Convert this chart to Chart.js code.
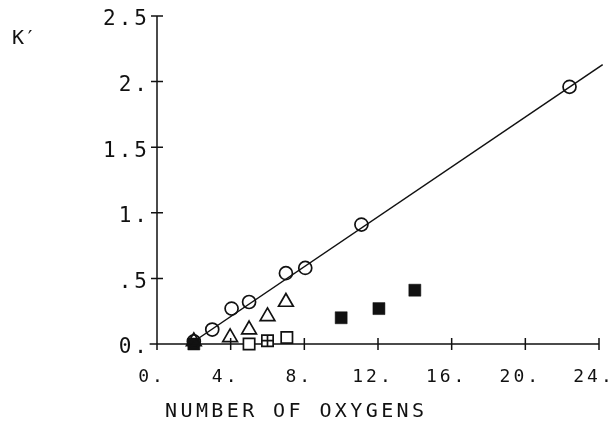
<!DOCTYPE html>
<html>
<head>
<meta charset="utf-8">
<script src="https://cdn.jsdelivr.net/npm/chart.js@4/dist/chart.umd.min.js"></script>
<style>
html,body{margin:0;padding:0;background:#fff;}
#wrap{width:615px;height:421px;}
</style>
</head>
<body>
<div id="wrap"><canvas id="c" width="615" height="421"></canvas></div>
<script>
// ---- data ----
const circleX = [2.0, 3.0, 4.05, 5.0, 7.0, 8.05, 11.1, 22.4];
const circleY = [0.02, 0.11, 0.27, 0.32, 0.54, 0.58, 0.91, 1.96];
const triangleX = [2.0, 3.97, 5.0, 6.0, 7.0];
const triangleY = [0.02, 0.05, 0.11, 0.21, 0.32];
const openSquareX = [5.0, 7.05];
const openSquareY = [0.0, 0.05];
const crossedSquareX = [6.0];
const crossedSquareY = [0.025];
const filledSquareX = [2.0, 10.0, 12.05, 14.0];
const filledSquareY = [0.0, 0.2, 0.27, 0.41];
const fitLineX = [1.8, 24.2];
const fitLineY = [0.0, 2.13];
const xTickValues = [0, 4, 8, 12, 16, 20, 24];
const xTickLabels = ['0.', '4.', '8.', '12.', '16.', '20.', '24.'];
const yTickValues = [0, 0.5, 1, 1.5, 2, 2.5];
const yTickLabels = ['0.', '.5', '1.', '1.5', '2.', '2.5'];
const xTitle = 'NUMBER OF OXYGENS';
const yTitle = 'K\u2032';

const pts = (xs, ys) => xs.map((x, i) => ({x: x, y: ys[i]}));
const INK = '#111';
const FONT = '"DejaVu Sans Mono", monospace';

const plotter = {
  id: 'plotter',
  beforeLayout(chart) { chart.ctx.letterSpacing = '3px'; },
  beforeDraw(chart) {
    const ctx = chart.ctx;
    ctx.letterSpacing = '3px';
    ctx.save();
    ctx.fillStyle = '#fff';
    ctx.fillRect(0, 0, chart.width, chart.height);
    ctx.restore();
  },
  beforeDatasetsDraw(chart) {
    const ctx = chart.ctx;
    const xs = chart.scales.x, ys = chart.scales.y;
    const x0 = xs.getPixelForValue(0), y0 = ys.getPixelForValue(0);
    ctx.save();
    ctx.strokeStyle = INK;
    ctx.lineWidth = 1.5;
    ctx.beginPath();
    ctx.moveTo(xs.getPixelForValue(-0.4), y0);
    ctx.lineTo(xs.getPixelForValue(24), y0);
    ctx.moveTo(x0, ys.getPixelForValue(2.5));
    ctx.lineTo(x0, y0 + 4);
    xTickValues.forEach(v => {
      const px = xs.getPixelForValue(v);
      ctx.moveTo(px, y0 - 6); ctx.lineTo(px, y0 + 6);
    });
    yTickValues.forEach(v => {
      const py = ys.getPixelForValue(v);
      ctx.moveTo(x0 - 6, py); ctx.lineTo(x0 + 6, py);
    });
    ctx.stroke();
    ctx.restore();
  },
  afterDraw(chart) {
    const ctx = chart.ctx;
    const xs = chart.scales.x;
    ctx.save();
    ctx.fillStyle = INK;
    ctx.font = '20px ' + FONT;
    ctx.textAlign = 'left';
    ctx.textBaseline = 'alphabetic';
    ctx.letterSpacing = '3.4px';
    ctx.fillText(xTitle, xs.getPixelForValue(0) + 8, 417);
    ctx.letterSpacing = '0px';
    ctx.fillText(yTitle, 12, 44);
    ctx.restore();
  }
};

new Chart(document.getElementById('c'), {
  type: 'scatter',
  data: {
    datasets: [
      { type: 'line', data: pts(fitLineX, fitLineY), borderColor: INK, borderWidth: 1.5,
        pointRadius: 0, fill: false, showLine: true, clip: false, tension: 0 },
      { data: pts(circleX, circleY), pointStyle: 'circle', pointRadius: 6.5,
        borderColor: INK, borderWidth: 1.7, backgroundColor: 'rgba(0,0,0,0)', clip: false },
      { data: pts(triangleX, triangleY), pointStyle: 'triangle', pointRadius: 8.5,
        borderColor: INK, borderWidth: 1.7, backgroundColor: 'rgba(0,0,0,0)', clip: false },
      { data: pts(crossedSquareX, crossedSquareY), pointStyle: 'cross', pointRadius: 5.5,
        borderColor: INK, borderWidth: 1.7, clip: false },
      { data: pts(crossedSquareX, crossedSquareY), pointStyle: 'rect', pointRadius: 8,
        borderColor: INK, borderWidth: 1.7, backgroundColor: '#fff', clip: false },
      { data: pts(openSquareX, openSquareY), pointStyle: 'rect', pointRadius: 8,
        borderColor: INK, borderWidth: 1.7, backgroundColor: '#fff', clip: false },
      { data: pts(filledSquareX, filledSquareY), pointStyle: 'rect', pointRadius: 8.5,
        borderColor: INK, borderWidth: 0.5, backgroundColor: INK, clip: false }
    ]
  },
  plugins: [plotter],
  options: {
    responsive: false,
    animation: false,
    events: [],
    layout: { padding: { top: 16, right: 16, left: 0, bottom: 0 } },
    plugins: { legend: { display: false }, tooltip: { enabled: false }, title: { display: false } },
    scales: {
      x: {
        type: 'linear', min: 0, max: 24,
        grid: { display: false, drawTicks: false },
        border: { display: false },
        afterBuildTicks: s => { s.ticks = xTickValues.map(v => ({value: v})); },
        ticks: {
          color: INK, font: { family: FONT, size: 18 }, padding: 23, labelOffset: -5,
          maxRotation: 0, autoSkip: false,
          callback: (v, i) => xTickLabels[i]
        },
        afterFit: s => { s.height = 77; s.paddingLeft = 0; s.paddingRight = 0; }
      },
      y: {
        type: 'linear', min: 0, max: 2.5,
        grid: { display: false, drawTicks: false },
        border: { display: false },
        afterBuildTicks: s => { s.ticks = yTickValues.map(v => ({value: v})); },
        ticks: {
          color: INK, font: { family: FONT, size: 21 }, padding: 7, labelOffset: 4,
          autoSkip: false,
          callback: (v, i) => yTickLabels[i]
        },
        afterFit: s => { s.width = 157; s.paddingTop = 0; s.paddingBottom = 0; }
      }
    }
  }
});
</script>
</body>
</html>
